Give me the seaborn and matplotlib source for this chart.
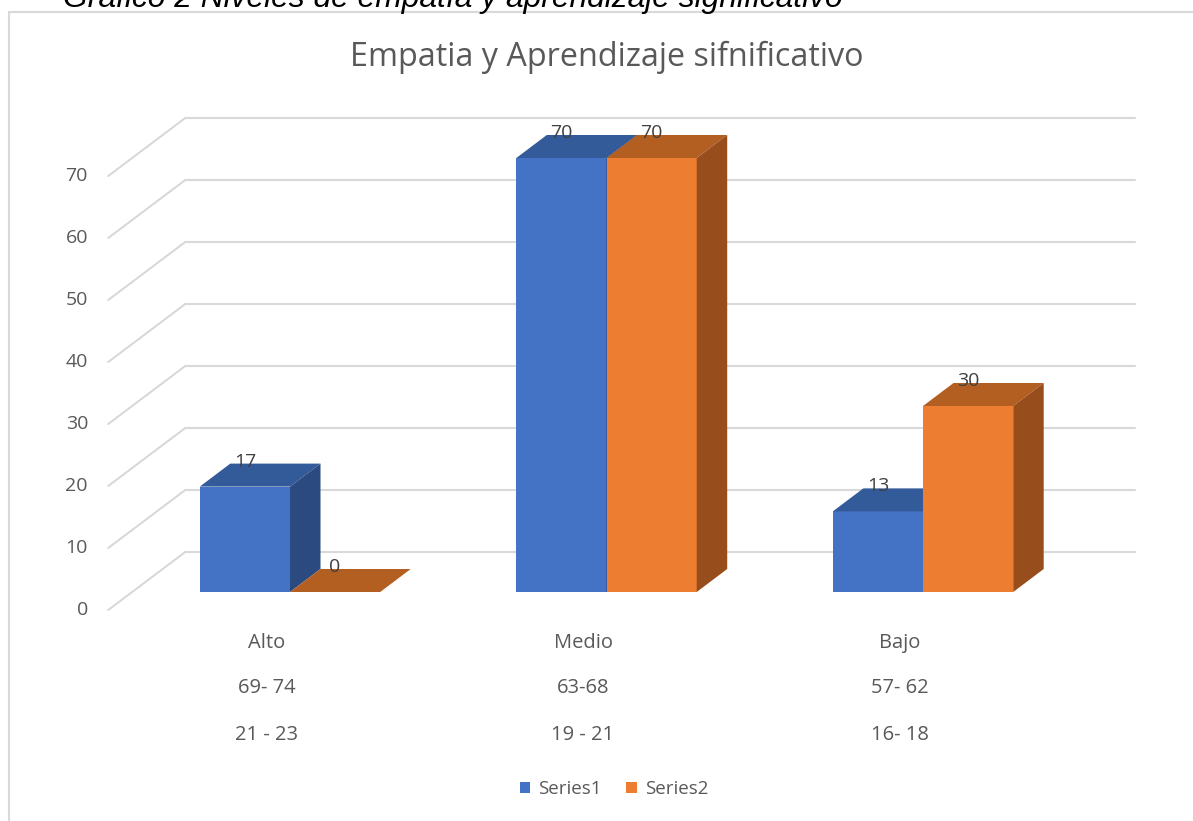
import matplotlib
matplotlib.use("Agg")
import matplotlib.pyplot as plt
from matplotlib.patches import Polygon, Patch
from matplotlib.lines import Line2D
import seaborn as sns
import pandas as pd

# data
categories = ["Alto", "Medio", "Bajo"]
range_a = ["69- 74", "63-68", "57- 62"]
range_b = ["21 - 23", "19 - 21", "16- 18"]
series_names = ["Series1", "Series2"]
series1 = [17, 70, 13]
series2 = [0, 70, 30]
y_ticks = [0, 10, 20, 30, 40, 50, 60, 70]

df = pd.DataFrame({
    "category": categories * 2,
    "value": series1 + series2,
    "series": [series_names[0]] * len(categories) + [series_names[1]] * len(categories),
})

sns.set_theme(style="white")
plt.rcParams["font.family"] = ["Open Sans", "DejaVu Sans"]

W, H = 1193, 821
fig = plt.figure(figsize=(W / 100, H / 100), dpi=100)

# axes = front plane of the bars (pixel layout of the reference)
left, right = 131.75, 1081.25
bottom, ppu = 229, 6.2
ymax = 70
ax = fig.add_axes([left / W, bottom / H, (right - left) / W, ymax * ppu / H])
ax.set_facecolor("none")

front = {"Series1": "#4472C4", "Series2": "#ED7D31"}
top = {"Series1": "#335A99", "Series2": "#B45F22"}
side = {"Series1": "#2B4A80", "Series2": "#984D1D"}
text_grey = "#595959"

sns.barplot(data=df, x="category", y="value", hue="series", order=categories,
            hue_order=series_names, palette=front, width=0.57, saturation=1,
            linewidth=0, legend=False, ax=ax)
ax.set_xlim(-0.5, len(categories) - 0.5)
ax.set_ylim(0, ymax)

# pixel -> data conversion for the fake 3D depth
sx = (right - left) / len(categories)
sy = ppu
ddx, ddy = 30.5 / sx, 23 / sy      # bar depth
fx, fy = -23.5 / sx, -18 / sy      # front edge of the floor
bx, by = 53.5 / sx, 40 / sy        # back wall

grid_kw = dict(color="#d9d9d9", lw=1.5, clip_on=False, zorder=0)
for v in y_ticks:
    ax.plot([-0.5 + bx, len(categories) - 0.5 + bx], [v + by, v + by], **grid_kw)
    ax.plot([-0.5 + fx, -0.5 + bx], [v + fy, v + by], **grid_kw)
    ax.text(-0.5 + (88 - left) / sx, v + fy, str(v), ha="right", va="center",
            fontsize=14, color=text_grey)

# top and side faces for each bar (bars sorted left to right: S1, S2, S1, S2 ...)
bars = sorted([p for p in ax.patches if p.get_width() > 0], key=lambda p: p.get_x())
for k, p in enumerate(bars):
    name = series_names[k % 2]
    z = 2 + k % 2
    x0, w, h = p.get_x(), p.get_width(), p.get_height()
    x1 = x0 + w
    p.set_zorder(z)
    ax.add_patch(Polygon([(x0, h), (x1, h), (x1 + ddx, h + ddy), (x0 + ddx, h + ddy)],
                         closed=True, fc=top[name], lw=0, zorder=z + 0.1, clip_on=False))
    ax.add_patch(Polygon([(x1, 0), (x1, h), (x1 + ddx, h + ddy), (x1 + ddx, ddy)],
                         closed=True, fc=side[name], lw=0, zorder=z + 0.2, clip_on=False))
    ax.text(x0 + w / 2, h + 25 / sy, f"{h:.0f}", ha="center", va="center",
            fontsize=14, color="#404040", zorder=5, clip_on=False)

# category labels (three lines under each group)
for i, cat in enumerate(categories):
    for txt, off in zip([cat, range_a[i], range_b[i]], [51, 96, 143]):
        ax.text(i + fx, -off / sy, txt, ha="center", va="center", fontsize=14.5,
                color=text_grey, clip_on=False)

ax.set_xticks([])
ax.set_yticks([])
ax.set_xlabel("")
ax.set_ylabel("")
sns.despine(ax=ax, left=True, bottom=True)

handles = [Patch(fc=front[n], lw=0) for n in series_names]
fig.legend(handles, series_names, loc="center", bbox_to_anchor=(614 / W, 32 / H), ncol=2,
           frameon=False, handlelength=0.55, handleheight=0.55, handletextpad=0.45,
           columnspacing=1.3, fontsize=13.5, labelcolor=text_grey)

# chart border (only left and top edges visible)
fig.add_artist(Line2D([8.5 / W, 8.5 / W], [0, 1 - 12 / H], transform=fig.transFigure,
                      color="#d9d9d9", lw=1.5))
fig.add_artist(Line2D([8.5 / W, 1], [1 - 12 / H, 1 - 12 / H], transform=fig.transFigure,
                      color="#d9d9d9", lw=1.5))

fig.text(607 / W, 1 - 57 / H, "Empatia y Aprendizaje sifnificativo", ha="center",
         va="center", fontsize=23.3, color=text_grey)
fig.text(63 / W, 1 - 6.5 / H, "Gráfico 2 Niveles de empatía y aprendizaje significativo",
         family=["Liberation Sans", "DejaVu Sans"], fontstyle="italic", fontsize=22.9,
         va="baseline", ha="left", color="black")

fig.savefig("out.png", dpi=100)
